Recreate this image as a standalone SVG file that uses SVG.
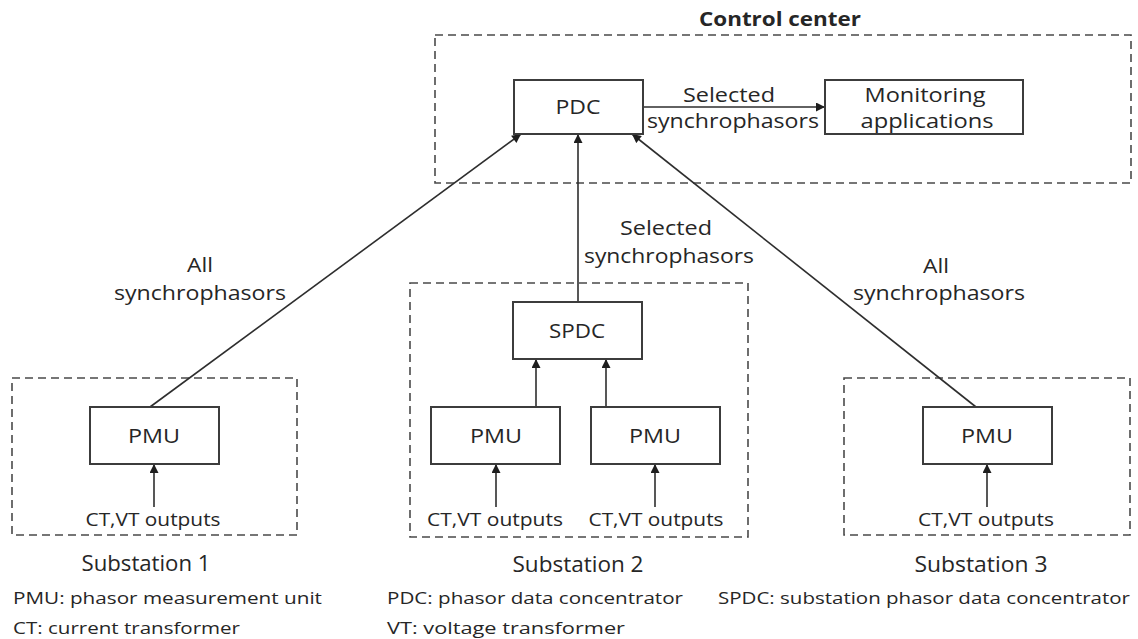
<svg xmlns="http://www.w3.org/2000/svg" width="1138" height="639" viewBox="0 0 1138 639">
  <style>
    text { font-family: "Open Sans", "Liberation Sans", sans-serif; fill: #262626; }
    .lbl { font-size: 20px; text-anchor: middle; }
    .node { font-size: 20px; text-anchor: middle; }
    .src { font-size: 17.5px; text-anchor: middle; }
    .sub { font-size: 22px; text-anchor: middle; }
    .leg { font-size: 17px; }
    .title { font-size: 20px; font-weight: bold; text-anchor: middle; }
    .box { fill: #fff; stroke: #3c3c3c; stroke-width: 2; }
    .zone { fill: none; stroke: #4a4a4a; stroke-width: 1.6; stroke-dasharray: 8 5; }
    .wire { fill: none; stroke: #2e2e2e; stroke-width: 1.6; marker-end: url(#head); }
  </style>
  <defs>
    <marker id="head" viewBox="0 0 10 10" refX="10" refY="5" markerWidth="11" markerHeight="9" markerUnits="userSpaceOnUse" orient="auto">
      <path d="M0,0 L10,5 L0,10 z" fill="#1e1e1e"/>
    </marker>
  </defs>
  <rect width="1138" height="639" fill="#fff"/>

  <!-- dashed zones -->
  <g id="zones">
    <rect id="control-center" class="zone" x="435" y="35" width="696" height="148"/>
    <rect id="substation-1" class="zone" x="12" y="378" width="285" height="157"/>
    <rect id="substation-2" class="zone" x="410" y="283" width="338" height="254"/>
    <rect id="substation-3" class="zone" x="844" y="378" width="286" height="157"/>
    <text class="title" x="780" y="26" textLength="162" lengthAdjust="spacingAndGlyphs">Control center</text>
    <text class="sub" x="146" y="571" textLength="129" lengthAdjust="spacingAndGlyphs">Substation 1</text>
    <text class="sub" x="578" y="572" textLength="131" lengthAdjust="spacingAndGlyphs">Substation 2</text>
    <text class="sub" x="981" y="572" textLength="133" lengthAdjust="spacingAndGlyphs">Substation 3</text>
  </g>

  <!-- connectors -->
  <g id="connectors">
    <line class="wire" x1="643" y1="107" x2="825" y2="107"/>
    <line class="wire" x1="150" y1="407" x2="521" y2="134"/>
    <line class="wire" x1="578" y1="302" x2="578" y2="134"/>
    <line class="wire" x1="976" y1="407" x2="632" y2="134"/>
    <line class="wire" x1="536" y1="407" x2="536" y2="359"/>
    <line class="wire" x1="606" y1="407" x2="606" y2="359"/>
    <line class="wire" x1="154" y1="507" x2="154" y2="464"/>
    <line class="wire" x1="496" y1="507" x2="496" y2="464"/>
    <line class="wire" x1="655" y1="507" x2="655" y2="464"/>
    <line class="wire" x1="987" y1="507" x2="987" y2="464"/>
    <text class="lbl" x="729" y="102" textLength="92" lengthAdjust="spacingAndGlyphs">Selected</text>
    <text class="lbl" x="733" y="128" textLength="172" lengthAdjust="spacingAndGlyphs">synchrophasors</text>
    <text class="lbl" x="666" y="235" textLength="92" lengthAdjust="spacingAndGlyphs">Selected</text>
    <text class="lbl" x="669" y="263" textLength="170" lengthAdjust="spacingAndGlyphs">synchrophasors</text>
    <text class="lbl" x="200" y="272" textLength="26" lengthAdjust="spacingAndGlyphs">All</text>
    <text class="lbl" x="200" y="300" textLength="172" lengthAdjust="spacingAndGlyphs">synchrophasors</text>
    <text class="lbl" x="936" y="273" textLength="26" lengthAdjust="spacingAndGlyphs">All</text>
    <text class="lbl" x="939" y="300" textLength="172" lengthAdjust="spacingAndGlyphs">synchrophasors</text>
  </g>

  <!-- nodes -->
  <g id="pdc">
    <rect class="box" x="514" y="80" width="129" height="54"/>
    <text class="node" x="578" y="114" textLength="45" lengthAdjust="spacingAndGlyphs">PDC</text>
  </g>
  <g id="monitoring">
    <rect class="box" x="825" y="80" width="198" height="54"/>
    <text class="lbl" x="925" y="102" textLength="121" lengthAdjust="spacingAndGlyphs">Monitoring</text>
    <text class="lbl" x="927" y="128" textLength="133" lengthAdjust="spacingAndGlyphs">applications</text>
  </g>
  <g id="spdc">
    <rect class="box" x="513" y="302" width="129" height="57"/>
    <text class="node" x="577" y="338" textLength="56" lengthAdjust="spacingAndGlyphs">SPDC</text>
  </g>
  <g id="pmu-1">
    <rect class="box" x="90" y="407" width="129" height="57"/>
    <text class="node" x="154" y="443" textLength="52" lengthAdjust="spacingAndGlyphs">PMU</text>
    <text class="src" x="153" y="526" textLength="135" lengthAdjust="spacingAndGlyphs">CT,VT outputs</text>
  </g>
  <g id="pmu-2a">
    <rect class="box" x="431" y="407" width="129" height="57"/>
    <text class="node" x="496" y="443" textLength="52" lengthAdjust="spacingAndGlyphs">PMU</text>
    <text class="src" x="495" y="526" textLength="136" lengthAdjust="spacingAndGlyphs">CT,VT outputs</text>
  </g>
  <g id="pmu-2b">
    <rect class="box" x="591" y="407" width="129" height="57"/>
    <text class="node" x="655" y="443" textLength="52" lengthAdjust="spacingAndGlyphs">PMU</text>
    <text class="src" x="656" y="526" textLength="135" lengthAdjust="spacingAndGlyphs">CT,VT outputs</text>
  </g>
  <g id="pmu-3">
    <rect class="box" x="923" y="407" width="129" height="57"/>
    <text class="node" x="987" y="443" textLength="52" lengthAdjust="spacingAndGlyphs">PMU</text>
    <text class="src" x="986" y="526" textLength="136" lengthAdjust="spacingAndGlyphs">CT,VT outputs</text>
  </g>

  <!-- abbreviations -->
  <g id="legend">
    <text class="leg" x="13" y="604" textLength="309" lengthAdjust="spacingAndGlyphs">PMU: phasor measurement unit</text>
    <text class="leg" x="13" y="634" textLength="227" lengthAdjust="spacingAndGlyphs">CT: current transformer</text>
    <text class="leg" x="387" y="604" textLength="296" lengthAdjust="spacingAndGlyphs">PDC: phasor data concentrator</text>
    <text class="leg" x="387" y="634" textLength="238" lengthAdjust="spacingAndGlyphs">VT: voltage transformer</text>
    <text class="leg" x="718" y="604" textLength="412" lengthAdjust="spacingAndGlyphs">SPDC: substation phasor data concentrator</text>
  </g>
</svg>
